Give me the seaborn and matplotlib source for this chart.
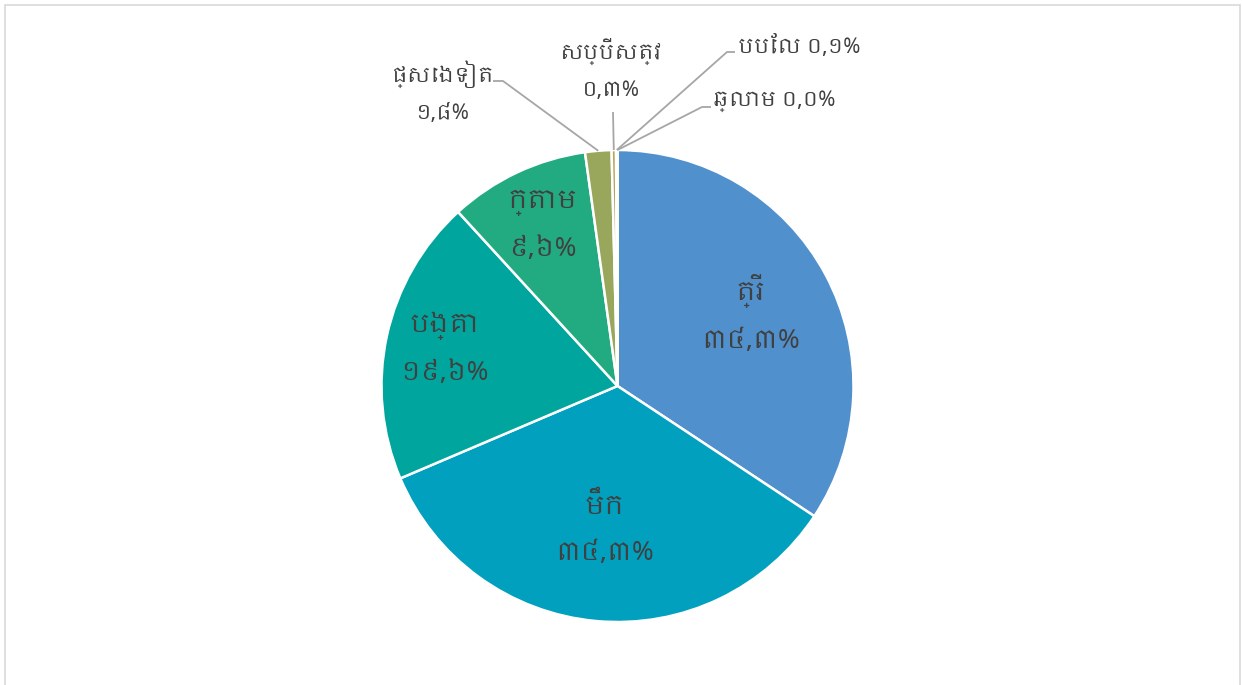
import numpy as np
import matplotlib
matplotlib.use('Agg')
import matplotlib.pyplot as plt
import seaborn as sns
from matplotlib import font_manager

# Data
categories = ['ត្រី', 'មឹក', 'បង្គា', 'ក្តាម', 'ផ្សេងទៀត', 'សប្បីសត្វ', 'បបែល', 'ឆ្លាម']
shares = [34.3, 34.3, 19.6, 9.6, 1.8, 0.3, 0.1, 0.0]
share_labels = ['៣៤,៣%', '៣៤,៣%', '១៩,៦%', '៩,៦%', '១,៨%', '០,៣%', '០,១%', '០,០%']
colors = ['#5090cd', '#00a0be', '#00a69d', '#22ab80', '#98a75b', '#b8a35c', '#d8b85a', '#e07a55']

sns.set_theme(style='white')
khmer = sorted({f.name for f in font_manager.fontManager.ttflist if 'Khmer' in f.name})
plt.rcParams['font.family'] = khmer[:1] + ['DejaVu Sans']

W, H = 1242, 685
fig = plt.figure(figsize=(W / 100, H / 100), dpi=100)
ax = fig.add_axes([0, 0, 1, 1])
ax.set_xlim(0, W)
ax.set_ylim(0, H)
ax.axis('off')

cx, cy, R = 617.5, H - 386, 236
wedges, _ = ax.pie(shares, colors=colors, startangle=90, counterclock=False,
                   center=(cx, cy), radius=R, normalize=True,
                   wedgeprops=dict(edgecolor='white', linewidth=1.8))
ax.set_xlim(0, W)
ax.set_ylim(0, H)

text_color = '#404040'
line_color = '#a6a6a6'


def mid_angle(w):
    return np.deg2rad((w.theta1 + w.theta2) / 2)


# labels inside the big slices
inside_r = [0.64, 0.61, 0.75, 0.75]
for i, frac in enumerate(inside_r):
    a = mid_angle(wedges[i])
    x = cx + frac * R * np.cos(a)
    y = cy + frac * R * np.sin(a)
    ax.text(x, y, categories[i] + '\n' + share_labels[i], ha='center', va='center',
            fontsize=19, color=text_color, linespacing=2.0)

# labels outside with leader lines (pixel positions, y measured from top)
outside = {
    4: dict(text=(443, 92), elbow=(503, 81), end=(493, 81), ha='center', two=True),
    5: dict(text=(611, 69), elbow=(613, 112), end=(613, 112), ha='center', two=True),
    6: dict(text=(738, 45), elbow=(727, 52), end=(735, 52), ha='left', two=False),
    7: dict(text=(713, 101), elbow=(702, 107), end=(711, 107), ha='left', two=False),
}
for i, o in outside.items():
    a = mid_angle(wedges[i])
    ex, ey = cx + R * np.cos(a), cy + R * np.sin(a)
    ax.plot([ex, o['elbow'][0], o['end'][0]], [ey, H - o['elbow'][1], H - o['end'][1]],
            color=line_color, lw=1.3, solid_capstyle='butt')
    if o['two']:
        s = categories[i] + '\n' + share_labels[i]
    else:
        s = categories[i] + ' ' + share_labels[i]
    ax.text(o['text'][0], H - o['text'][1], s, ha=o['ha'], va='center',
            fontsize=15, color=text_color, linespacing=1.95)

# chart border
fig.add_artist(plt.Rectangle((4.5 / W, -0.01), (1240 - 4.5) / W, (H - 4.5) / H + 0.01,
                             transform=fig.transFigure, fill=False,
                             edgecolor='#d9d9d9', lw=1.2))

fig.savefig('out.png', dpi=100)
